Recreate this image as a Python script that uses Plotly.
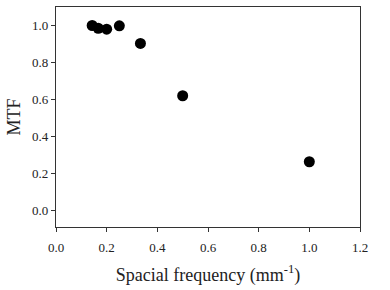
import plotly.graph_objects as go

freq = [1/7, 1/6, 1/5, 1/4, 1/3, 1/2, 1.0]
mtf = [1.0, 0.985, 0.98, 0.998, 0.903, 0.62, 0.263]
xticks = [0.0, 0.2, 0.4, 0.6, 0.8, 1.0, 1.2]
yticks = [0.0, 0.2, 0.4, 0.6, 0.8, 1.0]

fig = go.Figure(go.Scatter(x=freq, y=mtf, mode="markers",
                           marker=dict(color="black", size=11)))
font = dict(family="Liberation Serif", color="#222", size=13)
fig.update_layout(
    width=390, height=290, margin=dict(l=56, r=30, t=7, b=63),
    plot_bgcolor="white", paper_bgcolor="white", showlegend=False, font=font,
)
fig.update_xaxes(range=[0, 1.2], tickvals=xticks, ticktext=[f"{v:.1f}" for v in xticks],
                 ticks="outside", ticklen=4, tickcolor="#333", showline=True, linecolor="#333",
                 linewidth=1.2, mirror=True, showgrid=False, zeroline=False, ticklabelstandoff=4,
                 title=dict(text="Spacial frequency (mm<sup>-1</sup>)", font=dict(size=18, family="Liberation Serif", color="#222"), standoff=14))
fig.update_yaxes(range=[-0.09, 1.1], tickvals=yticks, ticktext=[f"{v:.1f}" for v in yticks],
                 ticks="outside", ticklen=4, tickcolor="#333", showline=True, linecolor="#333",
                 linewidth=1.2, mirror=True, showgrid=False, zeroline=False,
                 title=dict(text="MTF", font=dict(size=18, family="Liberation Serif", color="#222"), standoff=6))
fig.write_html("out.html")
